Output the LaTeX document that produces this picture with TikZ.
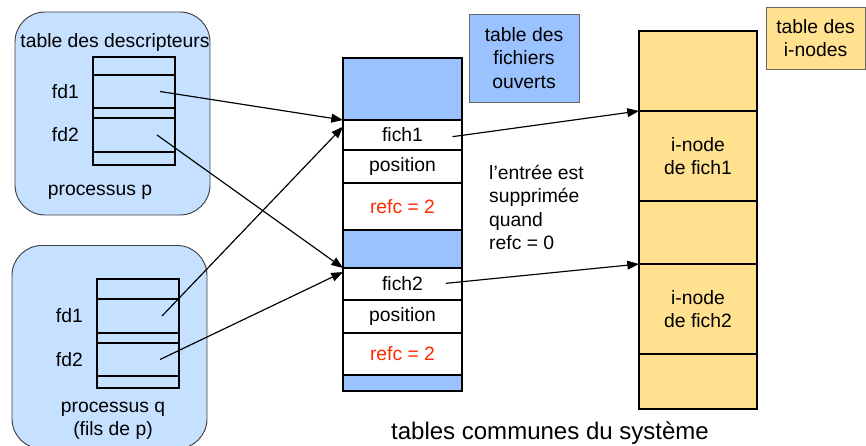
\documentclass[tikz,border=0pt]{standalone}
\usepackage{fontspec}
\setmainfont{Liberation Sans}
\usetikzlibrary{positioning,arrows.meta}
\definecolor{procblue}{HTML}{C6E0FF}
\definecolor{tabblue}{HTML}{99C2FF}
\definecolor{inoyellow}{HTML}{FFE18F}
\definecolor{refred}{HTML}{FF2A00}
\tikzset{cell/.style={draw=black, line width=0.9pt, inner sep=0pt, outer sep=0pt}}

\begin{document}
\begin{tikzpicture}[
  x=0.03cm, y=-0.03cm,
  every node/.style={font=\fontsize{16.5}{20}\selectfont},
  proc/.style={draw=black!75, fill=procblue, rounded corners=0.9cm, line width=0.8pt,
               minimum width=5.85cm, inner sep=0pt},
  dcell/.style={cell, fill=procblue, minimum width=2.46cm},
  fcell/.style={cell, fill=white, minimum width=3.57cm},
  icell/.style={cell, fill=inoyellow, minimum width=3.54cm},
  tag/.style={draw=black!60, line width=0.6pt, align=center, inner sep=0pt},
  arr/.style={-{Triangle[length=10pt,width=7.5pt]}, line width=1pt},
]
  \useasboundingbox (0,0) rectangle (866,445);

  % processus p
  \node[proc, minimum height=6.09cm] (procp) at (112.5,113.5) {};
  \node (ptitle) at (115,42) {table des descripteurs};
  \node[dcell, minimum height=0.54cm, anchor=north west] (pt0) at (93,57) {};
  \node[dcell, minimum height=0.99cm, below=0pt of pt0] (pfd1) {};
  \node[dcell, minimum height=0.30cm, below=0pt of pfd1] (pt2) {};
  \node[dcell, minimum height=1.02cm, below=0pt of pt2] (pfd2) {};
  \node[dcell, minimum height=0.39cm, below=0pt of pfd2] (pt4) {};
  \node[left=0.3cm of pfd1] (lpfd1) {fd1};
  \node[left=0.3cm of pfd2] (lpfd2) {fd2};
  \node (pname) at (100,192) {processus p};

  % processus q
  \node[proc, minimum height=6.1cm, anchor=north] (procq) at (109.5,245) {};
  \node[dcell, minimum height=0.60cm, anchor=north west] (qt0) at (97,279) {};
  \node[dcell, minimum height=1.02cm, below=0pt of qt0] (qfd1) {};
  \node[dcell, minimum height=0.30cm, below=0pt of qfd1] (qt2) {};
  \node[dcell, minimum height=0.99cm, below=0pt of qt2] (qfd2) {};
  \node[dcell, minimum height=0.36cm, below=0pt of qfd2] (qt4) {};
  \node[left=0.3cm of qfd1] (lqfd1) {fd1};
  \node[left=0.3cm of qfd2] (lqfd2) {fd2};
  \node[align=center] (qname) at (113,421) {processus q\\(fils de p)};

  % table des fichiers ouverts
  \node[fcell, fill=tabblue, minimum height=1.86cm, anchor=north west] (ft0) at (343,58) {};
  \node[fcell, minimum height=0.90cm, below=0pt of ft0] (fich1) {fich1};
  \node[fcell, minimum height=0.99cm, below=0pt of fich1] (pos1) {position};
  \node[fcell, minimum height=1.41cm, below=0pt of pos1, text=refred] (ref1) {refc = 2};
  \node[fcell, fill=tabblue, minimum height=1.14cm, below=0pt of ref1] (ft4) {};
  \node[fcell, minimum height=0.96cm, below=0pt of ft4] (fich2) {fich2};
  \node[fcell, minimum height=0.99cm, below=0pt of fich2] (pos2) {position};
  \node[fcell, minimum height=1.26cm, below=0pt of pos2, text=refred] (ref2) {refc = 2};
  \node[fcell, fill=tabblue, minimum height=0.48cm, below=0pt of ref2] (ft8) {};
  \node[tag, fill=tabblue, minimum width=3.3cm, minimum height=2.64cm] (ftag) at (524,58)
       {table des\\fichiers\\ouverts};
  \node[align=left, anchor=west, inner sep=0pt] (note) at (489,207.5)
       {l'entrée est\\supprimée\\quand\\refc = 0};

  % table des i-nodes
  \node[icell, minimum height=2.40cm, anchor=north west] (it0) at (639,31) {};
  \node[icell, minimum height=2.70cm, below=0pt of it0, align=center] (ino1) {i-node\\de fich1};
  \node[icell, minimum height=1.89cm, below=0pt of ino1] (it2) {};
  \node[icell, minimum height=2.70cm, below=0pt of it2, align=center] (ino2) {i-node\\de fich2};
  \node[icell, minimum height=1.65cm, below=0pt of ino2] (it4) {};
  \node[tag, fill=inoyellow, minimum width=2.97cm, minimum height=1.86cm] (itag) at (815.5,38)
       {table des\\i-nodes};

  \node[font=\fontsize{20.5}{24}\selectfont] (systeme) at (550,433) {tables communes du système};

  \draw[arr] ([xshift=0.78cm]pfd1.center) -- (fich1.north west);
  \draw[arr] ([xshift=0.69cm]pfd2.center) -- (fich2.north west);
  \draw[arr] ([xshift=0.72cm]qfd1.center) -- ([yshift=-0.2cm]fich1.north west);
  \draw[arr] ([xshift=0.66cm]qfd2.center) -- ([yshift=-0.12cm]fich2.north west);
  \draw[arr] ([xshift=1.5cm,yshift=-0.05cm]fich1.center) -- (ino1.north west);
  \draw[arr] ([xshift=1.3cm,yshift=0.02cm]fich2.center) -- (ino2.north west);
\end{tikzpicture}
\end{document}
